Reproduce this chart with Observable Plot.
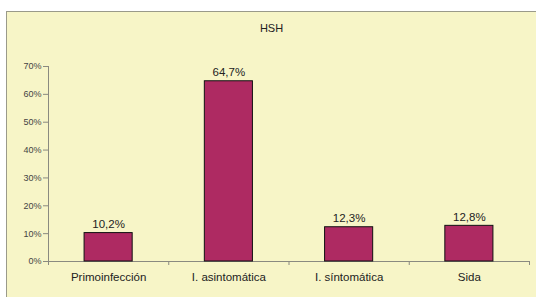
<!DOCTYPE html>
<html><head><meta charset="utf-8">
<script src="https://cdn.jsdelivr.net/npm/d3@7"></script>
<script src="https://cdn.jsdelivr.net/npm/@observablehq/plot@0.6"></script>
<style>
body{margin:0;background:#fff;font-family:"Liberation Sans",Arial,sans-serif;}
#outer{position:relative;width:536px;height:297px;overflow:hidden;background:#fff;}
#panel{position:absolute;left:6px;top:11px;width:530px;height:286px;background:#F7F5C7;border-left:1px solid #9a9a8a;border-top:1px solid #9a9a8a;}
#title{position:absolute;left:0;top:10px;width:529px;text-align:center;font-size:11px;color:#222;}
#chart{position:absolute;left:0;top:0;}
</style></head>
<body>
<div id="outer"><div id="panel"><div id="chart"></div><div id="title">HSH</div></div></div>
<script>
const categories = ["Primoinfección", "I. asintomática", "I. síntomática", "Sida"];
const values = [0.102, 0.647, 0.123, 0.128];
const yTicks = [0, 0.1, 0.2, 0.3, 0.4, 0.5, 0.6, 0.7];

const data = categories.map((c, i) => ({cat: c, i, v: values[i]}));
const fmtPct = v => (v * 100).toFixed(1).replace(".", ",") + "%";

const plot = Plot.plot({
  width: 529,
  height: 285,
  marginLeft: 41,
  marginRight: 7,
  marginTop: 54,
  marginBottom: 36,
  style: {background: "transparent", fontFamily: "Liberation Sans, Arial, sans-serif", color: "#333"},
  x: {type: "linear", domain: [0, categories.length], axis: null, label: null},
  y: {type: "linear", domain: [0, 0.7], axis: null, label: null},
  marks: [
    Plot.axisY({ticks: yTicks, tickFormat: d => Math.round(d * 100) + "%", tickSize: 5, tickPadding: 2, stroke: "#8a8a80", fontSize: 9, fill: "#444", label: null}),
    Plot.axisX({ticks: d3.range(categories.length + 1), tickFormat: () => "", tickSize: 4, stroke: "#8a8a80", label: null}),
    Plot.ruleX([0], {y1: 0, y2: 0.7, stroke: "#8a8a80"}),
    Plot.ruleY([0], {x1: 0, x2: categories.length, stroke: "#8a8a80"}),
    Plot.rectY(data, {x1: d => d.i + 0.3, x2: d => d.i + 0.7, y1: 0, y2: "v", fill: "#AE2A62", stroke: "#111", strokeWidth: 1}),
    Plot.text(data, {x: d => d.i + 0.5, y: "v", text: d => fmtPct(d.v), dy: -9, fontSize: 11.5, fill: "#222"}),
    Plot.text(data, {x: d => d.i + 0.5, y: 0, text: "cat", dy: 16, fontSize: 11.5, fill: "#222"})
  ]
});
document.getElementById("chart").appendChild(plot);
</script>
</body></html>
